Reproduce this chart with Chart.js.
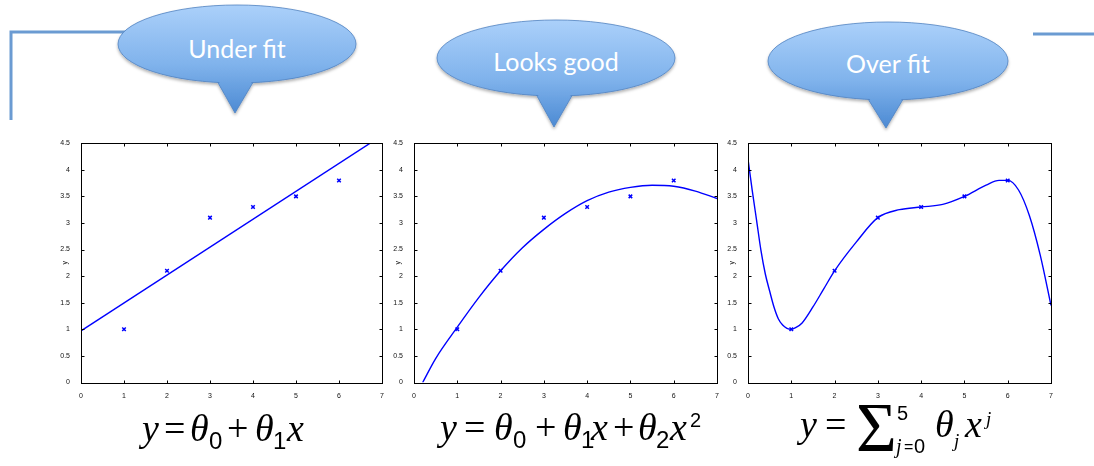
<!DOCTYPE html>
<html>
<head>
<meta charset="utf-8">
<script src="https://cdn.jsdelivr.net/npm/chart.js@4.4.0/dist/chart.umd.min.js"></script>
<style>
  body { margin: 0; width: 1094px; height: 466px; background: #fff; position: relative; overflow: hidden; }
  .plot { position: absolute; top: 136px; }
  #deco, #formulas { position: absolute; left: 0; }
  #deco { top: 0; }
  #formulas { top: 390px; }
  #formulas text { fill: #000; }
  .ser { font-family: 'Liberation Serif', 'Times New Roman', serif; font-size: 38px; }
  .it { font-style: italic; }
  .idx { font-family: 'Liberation Sans', Arial, sans-serif; font-size: 24px; }
  .iidx { font-family: 'Liberation Serif', serif; font-style: italic; font-size: 22px; }
</style>
</head>
<body>

<svg id="deco" width="1094" height="140" viewBox="0 0 1094 140">
  <defs>
    <filter id="shadow" x="-10%" y="-10%" width="120%" height="130%">
      <feDropShadow dx="0" dy="2" stdDeviation="1.5" flood-color="#000" flood-opacity="0.3"/>
    </filter>
  </defs>
  <!-- slide frame lines -->
  <polyline points="11,120 11,32 130,32" fill="none" stroke="#6b9bd2" stroke-width="3"/>
  <line x1="1033" y1="34" x2="1094" y2="34" stroke="#6b9bd2" stroke-width="3"/>
  <g id="bubbles"></g>
</svg>

<canvas id="fit1" class="plot"></canvas>
<canvas id="fit2" class="plot"></canvas>
<canvas id="fit3" class="plot"></canvas>

<!-- model equations under each panel (baselines are relative to top:390) -->
<svg id="formulas" width="1094" height="76" viewBox="0 0 1094 76">
  <g>
    <text class="ser it" x="142" y="51">y</text>
    <text class="ser" x="164" y="51">=</text>
    <text class="ser it" x="190" y="51">θ</text>
    <text class="idx" x="209" y="59">0</text>
    <text class="ser" x="227" y="51">+</text>
    <text class="ser it" x="255" y="51">θ</text>
    <text class="idx" x="273" y="59">1</text>
    <text class="ser it" x="287" y="51">x</text>
  </g>
  <g>
    <text class="ser it" x="440" y="50">y</text>
    <text class="ser" x="464" y="50">=</text>
    <text class="ser it" x="494" y="50">θ</text>
    <text class="idx" x="513" y="58">0</text>
    <text class="ser" x="535" y="50">+</text>
    <text class="ser it" x="563" y="50">θ</text>
    <text class="idx" x="581" y="58">1</text>
    <text class="ser it" x="591" y="50">x</text>
    <text class="ser" x="613" y="50">+</text>
    <text class="ser it" x="638" y="50">θ</text>
    <text class="idx" x="656" y="58">2</text>
    <text class="ser it" x="670" y="50">x</text>
    <text class="idx" style="font-size:20px" x="690" y="37">2</text>
  </g>
  <g>
    <text class="ser it" x="800" y="47">y</text>
    <text class="ser" x="825" y="47">=</text>
    <text class="ser" style="font-size:70px" x="856" y="61">Σ</text>
    <text class="idx" style="font-size:20px" x="897" y="30">5</text>
    <text class="iidx" style="font-size:20px" x="896" y="63">j</text>
    <text class="idx" style="font-size:16px" x="904" y="62">=</text>
    <text class="idx" style="font-size:20px" x="914" y="63">0</text>
    <text class="ser it" x="935" y="47">θ</text>
    <text class="iidx" style="font-size:19px" x="954" y="57">j</text>
    <text class="ser it" x="965" y="47">x</text>
    <text class="iidx" style="font-size:19px" x="986" y="35">j</text>
  </g>
</svg>

<script>
// observed samples shared by all three panels
const sampleX = [1, 2, 3, 4, 5, 6];
const sampleY = [1.0, 2.1, 3.1, 3.3, 3.5, 3.8];

// straight-line fit
const linearX = [0, 7];
const linearY = [0.97, 4.645];

// quadratic fit
const quadX = [0.2, 0.5, 1, 1.5, 2, 2.5, 3, 3.5, 4, 4.5, 5, 5.5, 6, 6.5, 7];
const quadY = [0, 0.45, 1.04, 1.6, 2.1, 2.53, 2.88, 3.18, 3.42, 3.58, 3.67, 3.71, 3.69, 3.6, 3.46];

// degree-5 fit
const polyX = [0, 0.1, 0.2, 0.3, 0.4, 0.5, 0.6, 0.7, 0.8, 0.9, 1, 1.1, 1.25, 1.5, 1.75, 2, 2.5, 3, 3.5, 4, 4.5, 5, 5.5, 5.8, 6, 6.25, 6.5, 6.75, 7];
const polyY = [4.2, 3.6, 3.04, 2.48, 2.04, 1.72, 1.42, 1.2, 1.08, 1.02, 1.0, 1.03, 1.12, 1.42, 1.76, 2.1, 2.64, 3.1, 3.25, 3.3, 3.35, 3.5, 3.71, 3.8, 3.8, 3.62, 3.14, 2.4, 1.45];

const xTicks = [0, 1, 2, 3, 4, 5, 6, 7];
const yTicks = [0, 0.5, 1, 1.5, 2, 2.5, 3, 3.5, 4, 4.5];

const bubbleLabels = ['Under fit', 'Looks good', 'Over fit'];

const toPoints = (xs, ys) => xs.map((x, i) => ({ x, y: ys[i] }));

// box around the plot area with inward ticks on every side
const framePlugin = {
    id: 'frame',
    afterDatasetsDraw(chart) {
        const { ctx, chartArea: a, scales: { x, y } } = chart;
        const L = Math.round(a.left) + 0.5, R = Math.round(a.right) + 0.5;
        const T = Math.round(a.top) + 0.5, B = Math.round(a.bottom) + 0.5;
        ctx.save();
        ctx.strokeStyle = '#000';
        ctx.lineWidth = 1;
        ctx.strokeRect(L, T, R - L, B - T);
        ctx.beginPath();
        xTicks.forEach(v => {
            const px = Math.round(x.getPixelForValue(v)) + 0.5;
            ctx.moveTo(px, B); ctx.lineTo(px, B - 3);
            ctx.moveTo(px, T); ctx.lineTo(px, T + 3);
        });
        yTicks.forEach(v => {
            const py = Math.round(y.getPixelForValue(v)) + 0.5;
            ctx.moveTo(L, py); ctx.lineTo(L + 3, py);
            ctx.moveTo(R, py); ctx.lineTo(R - 3, py);
        });
        ctx.stroke();
        ctx.restore();
    }
};

function makePlot(id, areaLeft, areaRight, fitX, fitY, mode) {
    const canvas = document.getElementById(id);
    const yWidth = 30, padRight = 8;
    const w = Math.round(areaRight - areaLeft) + yWidth + padRight;
    canvas.width = w; canvas.height = 262;
    canvas.style.width = w + 'px'; canvas.style.height = '262px';
    canvas.style.left = (Math.round(areaLeft) - yWidth) + 'px';

    const tickFont = { family: 'Liberation Sans', size: 7 };
    return new Chart(canvas, {
        type: 'scatter',
        data: {
            datasets: [{
                data: toPoints(fitX, fitY),
                showLine: true,
                borderColor: '#0000ff',
                borderWidth: 1.4,
                pointRadius: 0,
                cubicInterpolationMode: mode
            }, {
                data: toPoints(sampleX, sampleY),
                pointStyle: 'crossRot',
                pointRadius: 2.5,
                borderColor: '#0000ff',
                pointBorderWidth: 1.5
            }]
        },
        options: {
            responsive: false,
            animation: false,
            layout: { padding: { top: 6.5, right: padRight, bottom: 0, left: 0 } },
            plugins: { legend: { display: false }, tooltip: { enabled: false } },
            scales: {
                x: {
                    type: 'linear', min: 0, max: 7,
                    afterBuildTicks: s => { s.ticks = xTicks.map(v => ({ value: v })); },
                    afterFit: s => { s.height = 15.5; },
                    grid: { display: false },
                    border: { display: false },
                    ticks: { font: tickFont, color: '#111', padding: 1, maxRotation: 0, callback: v => String(v) }
                },
                y: {
                    type: 'linear', min: 0, max: 4.5,
                    afterBuildTicks: s => { s.ticks = yTicks.map(v => ({ value: v })); },
                    afterFit: s => { s.width = yWidth; },
                    grid: { display: false },
                    border: { display: false },
                    title: { display: true, text: 'y', font: { family: 'Liberation Sans', size: 7 }, color: '#111', padding: { top: 10, bottom: 0 } },
                    ticks: { font: tickFont, color: '#111', padding: 3, callback: v => String(v) }
                }
            }
        },
        plugins: [framePlugin]
    });
}

makePlot('fit1', 81, 381.5, linearX, linearY, 'default');
makePlot('fit2', 413.5, 716, quadX, quadY, 'monotone');
makePlot('fit3', 747.5, 1050, polyX, polyY, 'monotone');

// speech bubbles above each panel
const bubbleShapes = [
    { cx: 237, cy: 44, rx: 119, ry: 39, tail: [213, 258, 235, 113], textY: 58 },
    { cx: 556, cy: 58, rx: 119, ry: 38, tail: [532, 577, 554, 127], textY: 71 },
    { cx: 888, cy: 61, rx: 120, ry: 39, tail: [863, 908, 886, 128], textY: 73 }
];

const svgNS = 'http://www.w3.org/2000/svg';
const group = document.getElementById('bubbles');
const defs = document.querySelector('#deco defs');

bubbleShapes.forEach((b, i) => {
    const grad = document.createElementNS(svgNS, 'linearGradient');
    grad.id = 'bg' + i;
    grad.setAttribute('gradientUnits', 'userSpaceOnUse');
    grad.setAttribute('x1', 0); grad.setAttribute('x2', 0);
    grad.setAttribute('y1', b.cy - b.ry); grad.setAttribute('y2', b.tail[3]);
    [['0', '#abd0fa'], ['0.55', '#80b3ec'], ['1', '#4c8ad3']].forEach(([o, c]) => {
        const s = document.createElementNS(svgNS, 'stop');
        s.setAttribute('offset', o); s.setAttribute('stop-color', c);
        grad.appendChild(s);
    });
    defs.appendChild(grad);

    const [t1, t2, tx, ty] = b.tail;
    const baseY = b.cy + b.ry * 0.92;
    const g = document.createElementNS(svgNS, 'g');
    g.setAttribute('filter', 'url(#shadow)');

    const tri = document.createElementNS(svgNS, 'path');
    tri.setAttribute('d', `M${t1},${baseY - 6} L${tx},${ty} L${t2},${baseY - 6} Z`);
    tri.setAttribute('fill', `url(#bg${i})`);
    tri.setAttribute('stroke', '#4f82c0');
    tri.setAttribute('stroke-width', '0.8');
    g.appendChild(tri);

    const ell = document.createElementNS(svgNS, 'ellipse');
    ell.setAttribute('cx', b.cx); ell.setAttribute('cy', b.cy);
    ell.setAttribute('rx', b.rx); ell.setAttribute('ry', b.ry);
    ell.setAttribute('fill', `url(#bg${i})`);
    ell.setAttribute('stroke', '#4f82c0');
    ell.setAttribute('stroke-width', '0.8');
    g.appendChild(ell);

    // cover the ellipse outline where the tail joins
    const join = document.createElementNS(svgNS, 'path');
    join.setAttribute('d', `M${t1 + 0.8},${baseY - 8} L${tx},${ty - 1.5} L${t2 - 0.8},${baseY - 8} Z`);
    join.setAttribute('fill', `url(#bg${i})`);
    g.appendChild(join);
    group.appendChild(g);

    const txt = document.createElementNS(svgNS, 'text');
    txt.setAttribute('x', b.cx); txt.setAttribute('y', b.textY);
    txt.setAttribute('text-anchor', 'middle');
    txt.setAttribute('fill', '#fff');
    txt.setAttribute('font-family', 'Lato, "Open Sans", sans-serif');
    txt.setAttribute('font-size', '25');
    txt.textContent = bubbleLabels[i];
    group.appendChild(txt);
});
</script>
</body>
</html>
